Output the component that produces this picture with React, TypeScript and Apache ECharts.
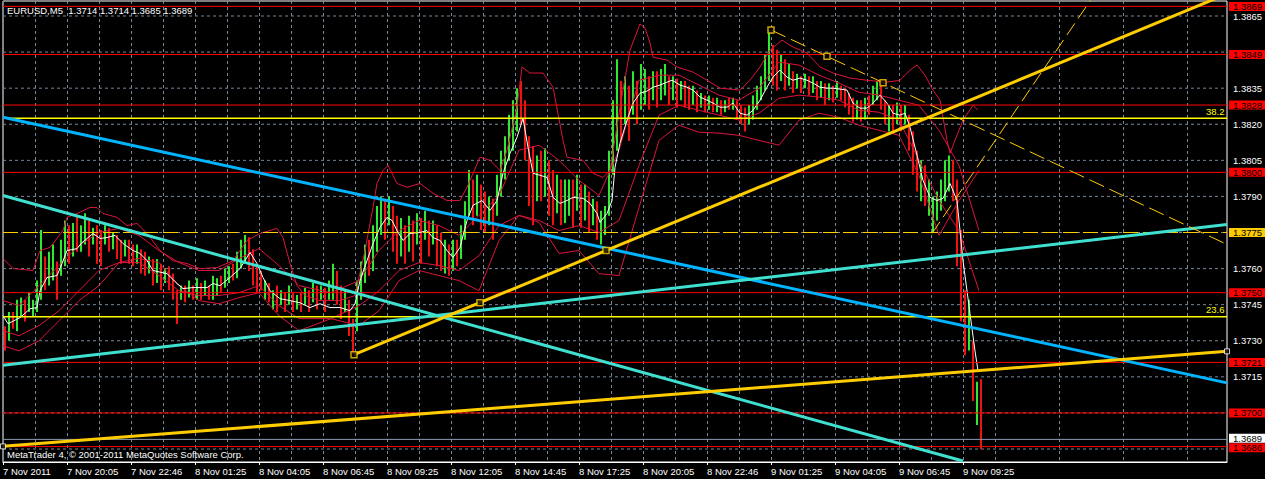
import { useEffect, useRef } from "react";
import * as echarts from "echarts";

const FONT = '"Liberation Sans", Arial, sans-serif';
const FS = 9.5;

// Time axis: one label every 16 bar slots (a slot is two M5 bars wide)
const timeLabels = [
  "7 Nov 2011", "7 Nov 20:05", "7 Nov 22:46", "8 Nov 01:25", "8 Nov 04:05", "8 Nov 06:45",
  "8 Nov 09:25", "8 Nov 12:05", "8 Nov 14:45", "8 Nov 17:25", "8 Nov 20:05", "8 Nov 22:46",
  "9 Nov 01:25", "9 Nov 04:05", "9 Nov 06:45", "9 Nov 09:25",
];

// Price scale ticks
const priceTicks = [
  1.3685, 1.37, 1.3715, 1.373, 1.3745, 1.376, 1.3775, 1.379, 1.3805, 1.382, 1.3835, 1.385, 1.3865,
];
const boxedTicks = [1.385, 1.3775, 1.37, 1.3685];

// Bar highs / lows / direction (1 = up bar, 0 = down bar)
const highs = [
  1.3736, 1.3742, 1.3742, 1.3747, 1.3748, 1.3747, 1.375, 1.3747, 1.3755, 1.3776,
  1.3765, 1.3767, 1.377, 1.3763, 1.3772, 1.378, 1.3778, 1.3779, 1.3782, 1.3778,
  1.3783, 1.378, 1.3777, 1.3778, 1.3776, 1.3778, 1.3777, 1.3775, 1.3774, 1.3772,
  1.3772, 1.3772, 1.377, 1.377, 1.3768, 1.3767, 1.3765, 1.3764, 1.3764, 1.3762,
  1.376, 1.3761, 1.3758, 1.3751, 1.3753, 1.3753, 1.3755, 1.3753, 1.3756, 1.3754,
  1.3755, 1.3753, 1.3757, 1.3756, 1.3757, 1.376, 1.3761, 1.3762, 1.3767, 1.3772,
  1.3774, 1.3773, 1.3768, 1.3762, 1.3759, 1.3755, 1.3754, 1.3751, 1.3753, 1.3751,
  1.375, 1.3753, 1.375, 1.3749, 1.375, 1.3752, 1.3751, 1.3754, 1.3753, 1.3753,
  1.3752, 1.3755, 1.3762, 1.3759, 1.3753, 1.3751, 1.3747, 1.3739, 1.3755, 1.3763,
  1.377, 1.3772, 1.3778, 1.3786, 1.379, 1.3789, 1.379, 1.3786, 1.3782, 1.3781,
  1.3778, 1.3782, 1.378, 1.3783, 1.3781, 1.3784, 1.378, 1.378, 1.3778, 1.3775,
  1.3772, 1.377, 1.3772, 1.3772, 1.3778, 1.3788, 1.3801, 1.3797, 1.3799, 1.3795,
  1.3792, 1.379, 1.3789, 1.3799, 1.3809, 1.3815, 1.3824, 1.383, 1.3835, 1.3838,
  1.383, 1.3815, 1.3811, 1.3807, 1.3809, 1.381, 1.3805, 1.3801, 1.3799, 1.3797,
  1.3797, 1.3797, 1.3797, 1.3799, 1.3795, 1.3795, 1.3792, 1.3789, 1.3788, 1.3784,
  1.3786, 1.3809, 1.383, 1.3847, 1.3838, 1.384, 1.3836, 1.3842, 1.3838, 1.3845,
  1.3843, 1.384, 1.3842, 1.3842, 1.3843, 1.3845, 1.384, 1.384, 1.3839, 1.3838,
  1.3838, 1.3836, 1.3836, 1.3834, 1.3833, 1.3832, 1.3832, 1.3831, 1.3831, 1.383,
  1.383, 1.3831, 1.3831, 1.383, 1.3828, 1.3827, 1.3828, 1.3832, 1.3836, 1.384,
  1.3849, 1.3859, 1.3853, 1.3851, 1.3849, 1.3847, 1.3845, 1.3842, 1.3841, 1.384,
  1.3841, 1.384, 1.384, 1.3838, 1.3838, 1.3837, 1.3837, 1.3836, 1.3838, 1.3836,
  1.3835, 1.3833, 1.3831, 1.383, 1.383, 1.3831, 1.3832, 1.3836, 1.3838, 1.3837,
  1.383, 1.3828, 1.3828, 1.3829, 1.3828, 1.3828, 1.3824, 1.3817, 1.3809, 1.3805,
  1.3803, 1.3797, 1.379, 1.3792, 1.3797, 1.3805, 1.3807, 1.3805, 1.3797, 1.3776,
  1.3751, 1.3747, 1.373, 1.3713, 1.3714,
];
const lows = [
  1.3726, 1.373, 1.3735, 1.3734, 1.374, 1.3738, 1.3742, 1.374, 1.3742, 1.3747,
  1.3751, 1.3753, 1.3755, 1.3747, 1.3757, 1.3761, 1.3762, 1.3765, 1.3767, 1.3767,
  1.377, 1.3765, 1.377, 1.3762, 1.3761, 1.377, 1.3767, 1.3768, 1.3764, 1.3762,
  1.3765, 1.3762, 1.3761, 1.3762, 1.3758, 1.3757, 1.3758, 1.3753, 1.3754, 1.3751,
  1.3754, 1.3751, 1.3747, 1.3737, 1.3747, 1.3746, 1.3748, 1.3747, 1.3747, 1.3747,
  1.3749, 1.3747, 1.3747, 1.3749, 1.375, 1.3752, 1.3754, 1.3755, 1.3756, 1.376,
  1.3762, 1.3759, 1.3753, 1.375, 1.3751, 1.3747, 1.3746, 1.3743, 1.3742, 1.3745,
  1.3742, 1.3745, 1.3742, 1.3743, 1.3742, 1.3745, 1.3742, 1.3746, 1.3743, 1.3747,
  1.3742, 1.3747, 1.3747, 1.3745, 1.3739, 1.3742, 1.3732, 1.3724, 1.3734, 1.3747,
  1.3754, 1.3757, 1.3759, 1.3767, 1.3774, 1.3772, 1.3778, 1.3767, 1.3762, 1.3765,
  1.3762, 1.3767, 1.3763, 1.377, 1.3762, 1.3772, 1.3765, 1.377, 1.3761, 1.3759,
  1.3758, 1.3757, 1.3759, 1.3761, 1.3764, 1.3772, 1.3782, 1.3778, 1.3782, 1.3776,
  1.3775, 1.3778, 1.3772, 1.3782, 1.379, 1.3797, 1.3805, 1.3809, 1.3817, 1.382,
  1.3805, 1.3786, 1.3778, 1.3788, 1.3788, 1.379, 1.3782, 1.3778, 1.3783, 1.3778,
  1.3779, 1.3782, 1.3777, 1.3784, 1.3777, 1.378, 1.3775, 1.3778, 1.3772, 1.377,
  1.3774, 1.3782, 1.3799, 1.3809, 1.3813, 1.382, 1.3813, 1.3824, 1.382, 1.3826,
  1.3828, 1.3826, 1.383, 1.3827, 1.383, 1.3832, 1.3828, 1.383, 1.3827, 1.383,
  1.3827, 1.3826, 1.3828, 1.3825, 1.3827, 1.3825, 1.3826, 1.3825, 1.3825, 1.3824,
  1.3825, 1.3826, 1.3826, 1.3822, 1.382, 1.3817, 1.382, 1.3822, 1.3826, 1.383,
  1.3834, 1.3838, 1.3836, 1.3834, 1.3838, 1.3834, 1.3836, 1.3833, 1.3835, 1.3833,
  1.3835, 1.3832, 1.3833, 1.383, 1.3831, 1.3828, 1.383, 1.3829, 1.3831, 1.383,
  1.3827, 1.3824, 1.3821, 1.3822, 1.3821, 1.3822, 1.3824, 1.3828, 1.383, 1.3826,
  1.382, 1.3817, 1.3816, 1.382, 1.3817, 1.382, 1.3809, 1.3799, 1.3792, 1.3788,
  1.3786, 1.3782, 1.3775, 1.378, 1.3784, 1.3788, 1.3792, 1.3788, 1.3761, 1.3738,
  1.3724, 1.3726, 1.3705, 1.3695, 1.3685,
];
const bullish = [
  0, 1, 0, 1, 1, 0, 1, 1, 1, 1,  0, 1, 1, 0, 1, 1, 0, 1, 0, 1,
  1, 0, 1, 0, 0, 1, 0, 1, 0, 0,  1, 0, 0, 1, 0, 0, 1, 0, 1, 0,
  1, 0, 0, 0, 1, 0, 1, 0, 1, 0,  1, 0, 1, 1, 0, 1, 1, 0, 1, 1,
  1, 0, 0, 0, 0, 1, 0, 1, 0, 1,  0, 1, 0, 1, 0, 1, 0, 1, 0, 1,
  0, 1, 1, 0, 0, 1, 0, 0, 1, 1,  1, 0, 1, 1, 1, 0, 1, 0, 0, 1,
  0, 1, 0, 1, 0, 1, 0, 1, 0, 0,  1, 0, 1, 0, 1, 1, 1, 0, 1, 0,
  0, 1, 0, 1, 1, 1, 1, 1, 1, 0,  0, 0, 0, 1, 0, 1, 0, 0, 1, 0,
  1, 1, 0, 1, 0, 1, 0, 1, 0, 1,  1, 1, 1, 1, 0, 1, 0, 1, 0, 1,
  1, 0, 1, 0, 1, 1, 0, 1, 0, 1,  0, 0, 1, 0, 1, 0, 1, 0, 1, 0,
  1, 0, 1, 0, 0, 0, 1, 1, 1, 1,  1, 1, 0, 0, 1, 0, 1, 0, 1, 0,
  1, 0, 1, 0, 1, 0, 1, 0, 1, 0,  0, 0, 0, 1, 0, 1, 0, 1, 1, 0,
  0, 1, 0, 1, 0, 1, 0, 0, 0, 1,  0, 1, 1, 1, 1, 1, 1, 0, 0, 0,
  0, 1, 0, 1, 0,
];

// Fast moving average: [slot, price]
const maLine = [
  [0, 1.37404], [1.25, 1.37371], [4.25, 1.37396], [6.75, 1.37433], [8.5, 1.37438], [9.25, 1.37508],
  [11, 1.37563], [13.5, 1.37571], [14.75, 1.37621], [16, 1.37675], [18.5, 1.37683], [19.75, 1.37708],
  [21, 1.37725], [22.5, 1.37746], [24.25, 1.37725], [26, 1.37729], [28, 1.37738], [30, 1.37704],
  [32.5, 1.37675], [34.25, 1.37663], [36, 1.37633], [37.5, 1.37592], [41, 1.37579], [43.5, 1.37538],
  [45, 1.37517], [47.5, 1.37521], [51, 1.37521], [52.5, 1.37538], [54.25, 1.37529], [56.75, 1.37563],
  [59.25, 1.376], [61.75, 1.37667], [63.5, 1.37621], [65, 1.37563], [66.75, 1.37508], [69.25, 1.37475],
  [71.75, 1.37467], [74.25, 1.37458], [76.75, 1.37438], [79.25, 1.37454], [81.75, 1.37438], [84.25, 1.37438],
  [86.75, 1.37425], [88, 1.37454], [89.25, 1.3755], [91, 1.37633], [92.5, 1.37704], [94.25, 1.37771],
  [96, 1.37813], [97.25, 1.378], [98.5, 1.37758], [100, 1.37717], [101.75, 1.37746], [104.25, 1.3775],
  [106, 1.37758], [107.5, 1.37729], [109.25, 1.37717], [111, 1.37675], [112.5, 1.37646], [114.25, 1.37688],
  [116, 1.378], [117.5, 1.37863], [119.75, 1.37883], [121.75, 1.37842], [123.5, 1.37883], [125, 1.37996],
  [126.75, 1.38079], [128.5, 1.38146], [130, 1.38225], [131.25, 1.38104], [132.5, 1.37996], [134.25, 1.37988],
  [136, 1.37979], [137.5, 1.37896], [139.25, 1.37871], [141, 1.37883], [142.5, 1.37896], [145, 1.37892],
  [146.75, 1.37871], [148.5, 1.37829], [149.25, 1.37792], [151, 1.37829], [152.25, 1.37883], [153, 1.38021],
  [154.25, 1.38121], [156, 1.38217], [157.5, 1.38288], [159.25, 1.38329], [161, 1.38338], [162.5, 1.38354],
  [164.25, 1.38363], [166, 1.38375], [167.25, 1.38383], [169.25, 1.38363], [171, 1.38354], [172.5, 1.38342],
  [174.25, 1.38313], [176, 1.383], [177.5, 1.38288], [179.25, 1.38271], [181, 1.38271], [182.5, 1.38288],
  [184.25, 1.38246], [186, 1.38238], [187.5, 1.38258], [189.25, 1.383], [191, 1.38354], [192.5, 1.38396],
  [194.25, 1.38425], [196, 1.38396], [197.5, 1.38383], [199.25, 1.38392], [201, 1.38383], [202.5, 1.38371],
  [204.25, 1.38354], [206, 1.3835], [207.5, 1.3835], [209.25, 1.38346], [211, 1.38342], [212.5, 1.38288],
  [214.25, 1.38267], [216, 1.38267], [217.5, 1.38288], [219.25, 1.38321], [221, 1.38288], [222.5, 1.38246],
  [224.25, 1.38238], [225.5, 1.38246], [226.75, 1.38188], [228.5, 1.38071], [230, 1.37967], [231.75, 1.37896],
  [233.5, 1.37883], [235, 1.37892], [236.75, 1.37954], [238.5, 1.37883], [240, 1.37633], [241.75, 1.37413],
  [243, 1.37258], [243.75, 1.37175],
];

// Band lines: [slot, price]
const bandUpperOuter = [
  [0, 1.37642], [2.5, 1.376], [7.5, 1.37592], [9.25, 1.37675], [11.75, 1.37688], [15, 1.37758], [16, 1.37813],
  [18.5, 1.37829], [21.75, 1.37854], [23.5, 1.37854], [25, 1.37829], [28.5, 1.37813], [31, 1.37779],
  [33.5, 1.37788], [36, 1.37746], [39.25, 1.37675], [42.5, 1.37633], [46, 1.37621], [49.25, 1.376],
  [53.5, 1.37604], [57.5, 1.37633], [61, 1.37717], [64.25, 1.37746], [68.5, 1.37767], [70, 1.37729],
  [71.75, 1.37621], [73.5, 1.37529], [75.5, 1.37488], [79.25, 1.37467], [84.25, 1.37467], [88, 1.37488],
  [90.5, 1.37675], [92.5, 1.37854], [93.5, 1.37954], [95, 1.38008], [96.25, 1.38029], [97.5, 1.37988],
  [98.5, 1.37954], [101, 1.37938], [104.25, 1.37954], [107.5, 1.37913], [111, 1.37883], [114.25, 1.37883],
  [116, 1.37938], [119.25, 1.38063], [121.75, 1.3805], [124.25, 1.38008], [126, 1.38092], [128.5, 1.38271],
  [129.75, 1.38438], [131.75, 1.38413], [135, 1.38413], [137.5, 1.38354], [140, 1.38133], [141, 1.38063],
  [145, 1.3805], [147.5, 1.37996], [150, 1.37979], [151.75, 1.38008], [154.25, 1.38271], [156.75, 1.38508],
  [159.25, 1.38617], [160.5, 1.386], [161.75, 1.38538], [162.5, 1.38479], [166, 1.38467], [168.5, 1.38438],
  [172.5, 1.38417], [176, 1.38383], [179.25, 1.3835], [184.25, 1.38342], [186.75, 1.38383], [189.25, 1.38438],
  [191.75, 1.38508], [194.75, 1.3855], [197.5, 1.38521], [201, 1.38496], [204.25, 1.38438], [207.5, 1.38413],
  [211.75, 1.38392], [216, 1.38383], [221, 1.38375], [224.25, 1.38383], [226.75, 1.38425], [228.5, 1.38446],
  [230.5, 1.38404], [232.5, 1.38342], [234.25, 1.383], [236, 1.38133], [236.75, 1.38079], [238, 1.38133],
  [240, 1.38217], [242.5, 1.38279], [243.75, 1.38258],
];
const bandUpperInner = [
  [0, 1.37467], [4, 1.37446], [9, 1.37529], [14, 1.37613], [19, 1.37696], [24, 1.3775], [29, 1.37767],
  [34, 1.37738], [39, 1.37675], [44, 1.37625], [49, 1.37592], [54, 1.37592], [59, 1.37642], [64, 1.37683],
  [69, 1.37613], [74, 1.37529], [82, 1.375], [89, 1.3755], [94, 1.37675], [99, 1.37758], [104, 1.378],
  [109, 1.37779], [114, 1.37738], [119, 1.37821], [124, 1.37904], [129, 1.38092], [134, 1.38113],
  [139, 1.3805], [144, 1.37967], [149, 1.37904], [154, 1.38092], [159, 1.38383], [164, 1.38404],
  [169, 1.38404], [174, 1.38363], [179, 1.38321], [184, 1.383], [189, 1.3835], [194, 1.38458],
  [199, 1.38446], [204, 1.38404], [209, 1.38371], [214, 1.38333], [219, 1.38321], [224, 1.383],
  [229, 1.38279], [234, 1.38175], [239, 1.38029], [244, 1.37758],
];
const bandLowerInner = [
  [0, 1.37342], [4, 1.37321], [9, 1.37363], [14, 1.37425], [19, 1.37508], [24, 1.37592], [29, 1.37625],
  [34, 1.37625], [39, 1.37571], [44, 1.37508], [49, 1.37488], [54, 1.37488], [59, 1.375], [64, 1.37529],
  [69, 1.37446], [74, 1.37392], [82, 1.37392], [89, 1.37446], [94, 1.37508], [99, 1.37592], [104, 1.37625],
  [109, 1.37613], [114, 1.37592], [119, 1.37654], [124, 1.37779], [129, 1.37821], [134, 1.378],
  [139, 1.37758], [144, 1.37779], [149, 1.3775], [154, 1.378], [159, 1.38029], [164, 1.38238],
  [169, 1.38279], [174, 1.38258], [179, 1.38238], [184, 1.38217], [189, 1.38246], [194, 1.38308],
  [199, 1.38321], [204, 1.38313], [209, 1.383], [214, 1.38258], [219, 1.3825], [224, 1.38217],
  [229, 1.3805], [234, 1.37883], [239, 1.37758], [244, 1.37508],
];
const bandLowerOuter = [
  [0, 1.37279], [4, 1.37258], [9, 1.373], [14, 1.37383], [19, 1.37467], [24, 1.37529], [29, 1.37625],
  [34, 1.37642], [39, 1.37625], [44, 1.37529], [49, 1.37467], [54, 1.37454], [59, 1.37479], [64, 1.375],
  [69, 1.37404], [74, 1.37342], [82, 1.37392], [89, 1.37363], [94, 1.37425], [99, 1.3755], [104, 1.37592],
  [109, 1.37571], [114, 1.3755], [119, 1.37508], [124, 1.37717], [129, 1.37821], [134, 1.37792],
  [139, 1.37663], [144, 1.37675], [149, 1.37579], [154, 1.37571], [159, 1.37854], [164, 1.38133],
  [169, 1.38196], [174, 1.38167], [179, 1.38163], [184, 1.38154], [189, 1.38133], [194, 1.38113],
  [199, 1.38217], [204, 1.38246], [209, 1.38229], [214, 1.38196], [219, 1.38175], [224, 1.38154],
  [229, 1.37988], [234, 1.37738], [239, 1.37883], [244, 1.38008],
];

// Horizontal levels
const redLevels = [1.3869, 1.3849, 1.3828, 1.38, 1.375, 1.3721, 1.37, 1.3686];
const fibPrices = [1.38225, 1.374];
const fibNames = ["38.2", "23.6"];
const pivotLevel = 1.3775;
const bidPrice = 1.3689;

// Trend lines: [slot, price] end points / anchors
const blueLine = [[0, 1.38229], [306, 1.37125]];
const turquoiseDown = [[0, 1.37904], [240, 1.368]];
const turquoiseUp = [[0, 1.37198], [306, 1.37783]];
const goldFlat = [[0, 1.36861], [306, 1.37256]];
const goldRayAnchors = [[87.75, 1.37242], [150.75, 1.37675]];
const dashedFallAnchors = [[192, 1.38592], [220, 1.38373]];
const dashedRiseAnchors = [[232.25, 1.37746], [263.4, 1.38508]];

const SLOTS = 306;
const Y_MIN = 1.36796;
const Y_MAX = 1.387124;

const BULL = "#2fe82f";
const BEAR = "#f01212";
const BAND = "#dc143c";
const GRID = "#778899";
const GOLD = "#ffcc00";

function ray(a: number[], b: number[]) {
  const k = (b[1] - a[1]) / (b[0] - a[0]);
  return [a, [SLOTS, a[1] + k * (SLOTS - a[0])]];
}
function mid(a: number[], b: number[]) {
  return [(a[0] + b[0]) / 2, (a[1] + b[1]) / 2];
}

function trend(data: number[][], color: string, width: number, dash?: number[]) {
  return {
    type: "line",
    data,
    symbol: "none",
    clip: true,
    silent: true,
    z: 6,
    lineStyle: { color, width, type: dash || "solid" },
  };
}

function band(data: number[][]) {
  return {
    type: "line",
    data,
    symbol: "none",
    silent: true,
    z: 3,
    lineStyle: { color: BAND, width: 1 },
  };
}

// A horizontal line across the whole plot, optionally with a label at its right end
function level(price: number, color: string, width: number, z: number, dash: any, endLabel?: any) {
  return {
    type: "line",
    data: [[0, price], [SLOTS, price]],
    symbol: "none",
    silent: true,
    clip: true,
    z,
    lineStyle: { color, width, type: dash },
    endLabel: endLabel || { show: false },
  };
}

function boxLabel(text: string, bg: string, dy = 0) {
  return {
    show: true,
    distance: 2,
    offset: [0, dy],
    formatter: text,
    color: "#000",
    backgroundColor: bg,
    padding: [1, 3, 0, 4],
    fontSize: FS,
    fontFamily: FONT,
    lineHeight: 8,
  };
}

export default function App() {
  const ref = useRef<HTMLDivElement>(null);

  useEffect(() => {
    if (!ref.current) return;
    const chart = echarts.init(ref.current, null, { renderer: "svg" });

    const barData = highs.map((h, i) => [i + 0.5, h, lows[i], bullish[i]]);

    const gridSeries = priceTicks.map((p) =>
      level(p, GRID, 1, 1, [3, 3], {
        show: !boxedTicks.some((b) => Math.abs(b - p) < 1e-6),
        distance: 6,
        formatter: p.toFixed(4),
        color: "#fff",
        fontSize: FS,
        fontFamily: FONT,
      })
    );

    const levelSeries: any[] = [];
    redLevels.forEach((p, i) => {
      // the lowest level's box sits just under the bid box
      const dy = i === redLevels.length - 1 ? 1.2 : 0;
      levelSeries.push(level(p, "#ff0000", 1, 5, "solid", boxLabel(p.toFixed(4), "#ff0000", dy)));
    });
    fibPrices.forEach((p, i) => {
      levelSeries.push(
        level(p, "#ffff00", 1.5, 5, "solid", {
          show: true,
          distance: 0,
          offset: [-21, -7],
          formatter: fibNames[i],
          color: "#ffff00",
          fontSize: FS,
          fontFamily: FONT,
        })
      );
    });
    levelSeries.push(level(pivotLevel, GOLD, 1, 5, [15, 5], boxLabel(pivotLevel.toFixed(4), GOLD)));
    levelSeries.push(level(bidPrice, "#8a9bb0", 1, 5, "solid", boxLabel(bidPrice.toFixed(4), "#ffffff", -1.2)));

    const goldRay = ray(goldRayAnchors[0], goldRayAnchors[1]);
    const dashedFall = ray(dashedFallAnchors[0], dashedFallAnchors[1]);
    const dashedRise = ray(dashedRiseAnchors[0], dashedRiseAnchors[1]);

    const goldMarks = [
      goldRayAnchors[0], mid(goldRayAnchors[0], goldRayAnchors[1]), goldRayAnchors[1],
      dashedFallAnchors[0], mid(dashedFallAnchors[0], dashedFallAnchors[1]), dashedFallAnchors[1],
    ];
    const whiteMarks = [goldFlat[0], goldFlat[1]];

    const tickSlots = timeLabels.map((_, i) => i * 16);

    chart.setOption({
      animation: false,
      backgroundColor: "#000",
      grid: {
        left: 3,
        right: 38,
        top: 1,
        bottom: 17,
        show: true,
        borderColor: "#ffffff",
        borderWidth: 1,
        backgroundColor: "#000",
      },
      xAxis: {
        type: "value",
        min: 0,
        max: SLOTS,
        interval: 16,
        axisLine: { show: true, lineStyle: { color: "#fff", width: 1 } },
        axisTick: { show: true, length: 3, lineStyle: { color: "#fff" }, customValues: tickSlots },
        axisLabel: {
          color: "#fff",
          fontSize: FS,
          fontFamily: FONT,
          align: "left",
          margin: 4,
          customValues: tickSlots,
          formatter: (v: number) => timeLabels[Math.round(v / 16)] ?? "",
        },
        splitLine: { show: true, lineStyle: { color: GRID, width: 1, type: [3, 3] } },
        minorTick: { show: false, splitNumber: 2 },
        minorSplitLine: { show: true, lineStyle: { color: GRID, width: 1, type: [3, 3] } },
      },
      yAxis: {
        type: "value",
        position: "right",
        min: Y_MIN,
        max: Y_MAX,
        axisLine: { show: false },
        axisTick: { show: false },
        axisLabel: { show: false },
        splitLine: { show: false },
      },
      graphic: [
        {
          type: "text",
          left: 7,
          top: 5,
          z: 20,
          style: { text: "EURUSD,M5  1.3714 1.3714 1.3685 1.3689", fill: "#fff", font: `${FS}px ${FONT}` },
        },
        {
          type: "text",
          left: 7,
          top: 449,
          z: 20,
          style: { text: "MetaTrader 4, \u00a9 2001-2011 MetaQuotes Software Corp.", fill: "#fff", font: `${FS}px ${FONT}` },
        },
      ],
      series: [
        ...gridSeries,
        {
          type: "custom",
          data: barData,
          clip: true,
          silent: true,
          z: 2,
          encode: { x: 0, y: [1, 2] },
          renderItem: (_p: any, api: any) => {
            const x = api.value(0);
            const top = api.coord([x, api.value(1)]);
            const bot = api.coord([x, api.value(2)]);
            return {
              type: "rect",
              shape: {
                x: Math.round(top[0]) - 1,
                y: top[1],
                width: 2,
                height: Math.max(1, bot[1] - top[1]),
              },
              style: { fill: api.value(3) === 1 ? BULL : BEAR },
            };
          },
        },
        band(bandUpperOuter),
        band(bandUpperInner),
        band(bandLowerInner),
        band(bandLowerOuter),
        {
          type: "line",
          data: maLine,
          symbol: "none",
          silent: true,
          z: 4,
          lineStyle: { color: "#ffffff", width: 1 },
        },
        ...levelSeries,
        trend(blueLine, "#00b4ff", 3),
        trend(turquoiseDown, "#40e0d0", 3),
        trend(turquoiseUp, "#40e0d0", 3),
        trend(goldFlat, GOLD, 3),
        trend(goldRay, GOLD, 3),
        trend(dashedFall, GOLD, 1, [16, 6]),
        trend(dashedRise, GOLD, 1, [14, 6]),
        {
          type: "scatter",
          data: goldMarks,
          symbol: "rect",
          symbolSize: 6,
          silent: true,
          z: 7,
          itemStyle: { color: "#000", borderColor: GOLD, borderWidth: 1.5 },
        },
        {
          type: "scatter",
          data: whiteMarks,
          symbol: "rect",
          symbolSize: 5,
          silent: true,
          z: 7,
          itemStyle: { color: "#000", borderColor: "#fff", borderWidth: 1 },
        },
      ],
    });

    return () => chart.dispose();
  }, []);

  return (
    <div
      ref={ref}
      style={{ position: "fixed", left: 0, top: 0, width: 1265, height: 479, background: "#000" }}
    />
  );
}
